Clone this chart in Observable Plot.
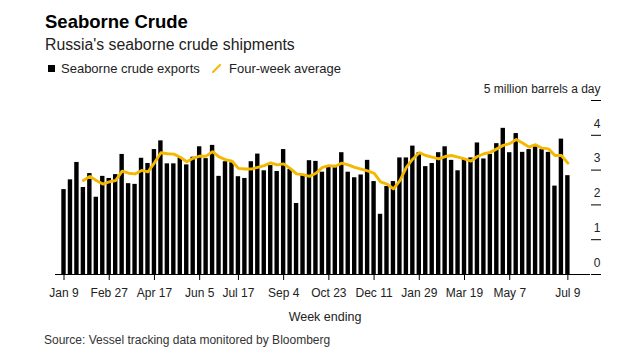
<!DOCTYPE html>
<html>
<head>
<meta charset="utf-8">
<script src="https://cdn.jsdelivr.net/npm/d3@7"></script>
<script src="https://cdn.jsdelivr.net/npm/@observablehq/plot@0.6"></script>
<style>
  body { margin: 0; background: #fff; }
  #wrap { position: relative; width: 644px; height: 363px; font-family: "Liberation Sans", Arial, sans-serif; color: #111; }
  .abs { position: absolute; white-space: nowrap; line-height: 1; }
</style>
</head>
<body>
<div id="wrap">
  <div class="abs" style="left:45px;top:13px;font-size:18.5px;font-weight:bold;color:#000">Seaborne Crude</div>
  <div class="abs" style="left:45px;top:36.5px;font-size:15.8px;color:#222">Russia's seaborne crude shipments</div>
  <div class="abs" style="left:48px;top:65px;width:7px;height:7px;background:#000"></div>
  <div class="abs" style="left:61px;top:62px;font-size:13px;color:#222">Seaborne crude exports</div>
  <svg class="abs" style="left:212px;top:64px" width="9" height="9"><line x1="1" y1="8" x2="8" y2="1" stroke="#f4b800" stroke-width="2" stroke-linecap="round"/></svg>
  <div class="abs" style="left:229px;top:62px;font-size:13px;color:#222">Four-week average</div>
  <div id="chart" class="abs" style="left:0;top:80px"></div>
  <div class="abs" style="left:225px;width:200px;text-align:center;top:310px;font-size:12.5px;line-height:14px;color:#222">Week ending</div>
  <div class="abs" style="left:44px;top:333px;font-size:12px;line-height:14px;color:#333">Source: Vessel tracking data monitored by Bloomberg</div>
</div>
<script>
// Weekly categories: weeks ending Sunday, Jan 9 2022 to Jul 9 2023
const fmt = d3.utcFormat("%Y-%m-%d");
const weeks = d3.utcSunday.range(new Date(Date.UTC(2022, 0, 9)), new Date(Date.UTC(2023, 6, 10))).map(fmt);

// Seaborne crude exports, million barrels a day
const exportsMbd = [
  2.44, 2.72, 3.22, 2.50, 2.90, 2.22, 2.82, 2.76, 2.87, 3.45,
  2.61, 2.59, 3.34, 3.19, 3.59, 3.84, 3.18, 3.18, 3.35, 3.15,
  3.37, 3.67, 3.33, 3.71, 2.82, 3.24, 3.21, 2.81, 2.76, 3.24,
  3.46, 2.98, 3.13, 2.96, 3.59, 3.02, 2.04, 2.84, 3.27, 3.25,
  2.94, 3.09, 3.07, 3.50, 2.94, 2.78, 2.86, 3.28, 2.67, 1.73,
  2.53, 2.67, 3.35, 3.35, 3.69, 3.50, 3.10, 3.19, 3.50, 3.67,
  3.28, 2.98, 3.31, 3.35, 3.78, 3.32, 3.45, 3.76, 4.20, 3.50,
  4.05, 3.51, 3.59, 3.68, 3.59, 3.51, 2.54, 3.89, 2.84
];

// Four-week average, starting with the 4th week
const fourWeekAvg = [
  2.70, 2.82, 2.70, 2.60, 2.66, 2.70, 2.97, 2.91, 2.89, 2.99,
  2.95, 3.21, 3.50, 3.47, 3.46, 3.37, 3.24, 3.34, 3.40, 3.40,
  3.53, 3.38, 3.30, 3.26, 3.05, 3.03, 3.03, 3.08, 3.13, 3.21,
  3.15, 3.18, 3.05, 2.89, 2.87, 2.82, 2.91, 3.08, 3.13, 3.11,
  3.20, 3.15, 3.08, 3.03, 2.98, 2.91, 2.66, 2.60, 2.46, 2.70,
  3.08, 3.32, 3.50, 3.42, 3.37, 3.32, 3.39, 3.42, 3.37, 3.32,
  3.26, 3.39, 3.47, 3.51, 3.61, 3.71, 3.76, 3.88, 3.78, 3.66,
  3.73, 3.63, 3.61, 3.42, 3.42, 3.20
];

// Axis tick labels
const xTicks = ["2022-01-09", "2022-02-27", "2022-04-17", "2022-06-05", "2022-07-17", "2022-09-04",
                "2022-10-23", "2022-12-11", "2023-01-29", "2023-03-19", "2023-05-07", "2023-07-09"];
const yTicks = [0, 1, 2, 3, 4, 5];
const yUnit = "5 million barrels a day";

const bars = weeks.map((w, i) => ({week: w, value: exportsMbd[i]}));
const avg = fourWeekAvg.map((v, i) => ({week: weeks[i + 3], value: v}));
const tickFmt = (s) => d3.utcFormat("%b %-d")(d3.utcParse("%Y-%m-%d")(s));

const chart = Plot.plot({
  width: 644,
  height: 245,
  marginTop: 20,
  marginBottom: 51,
  marginLeft: 55,
  marginRight: 54,
  style: {fontFamily: "'Liberation Sans', Arial, sans-serif", fontSize: "12px", color: "#222", background: "transparent", overflow: "visible"},
  x: {type: "band", domain: weeks, paddingInner: 0.32, paddingOuter: 2.07, align: 0.236, round: false},
  y: {domain: [0, 5]},
  marks: [
    Plot.barY(bars, {x: "week", y: "value", fill: "#000"}),
    Plot.ruleY([0], {stroke: "#000", strokeWidth: 1}),
    Plot.lineY(avg, {x: "week", y: "value", stroke: "#f4b800", strokeWidth: 2.9, strokeLinejoin: "round", strokeLinecap: "round"}),
    Plot.axisX({ticks: xTicks, tickFormat: tickFmt, tickSize: 6, tickPadding: 8, label: null, stroke: "#000"}),
    // tick marks only
    Plot.axisY({anchor: "right", ticks: yTicks, tickSize: 10, tickFormat: () => "", label: null, stroke: "#000"}),
    // labels only, sitting above their tick marks
    Plot.axisY({anchor: "right", ticks: yTicks, tickSize: 0, tickPadding: 10, textAnchor: "end", dy: -11.5,
      tickFormat: d => d === 5 ? yUnit : String(d), label: null, fill: "#222"})
  ]
});
document.getElementById("chart").appendChild(chart);
</script>
</body>
</html>
